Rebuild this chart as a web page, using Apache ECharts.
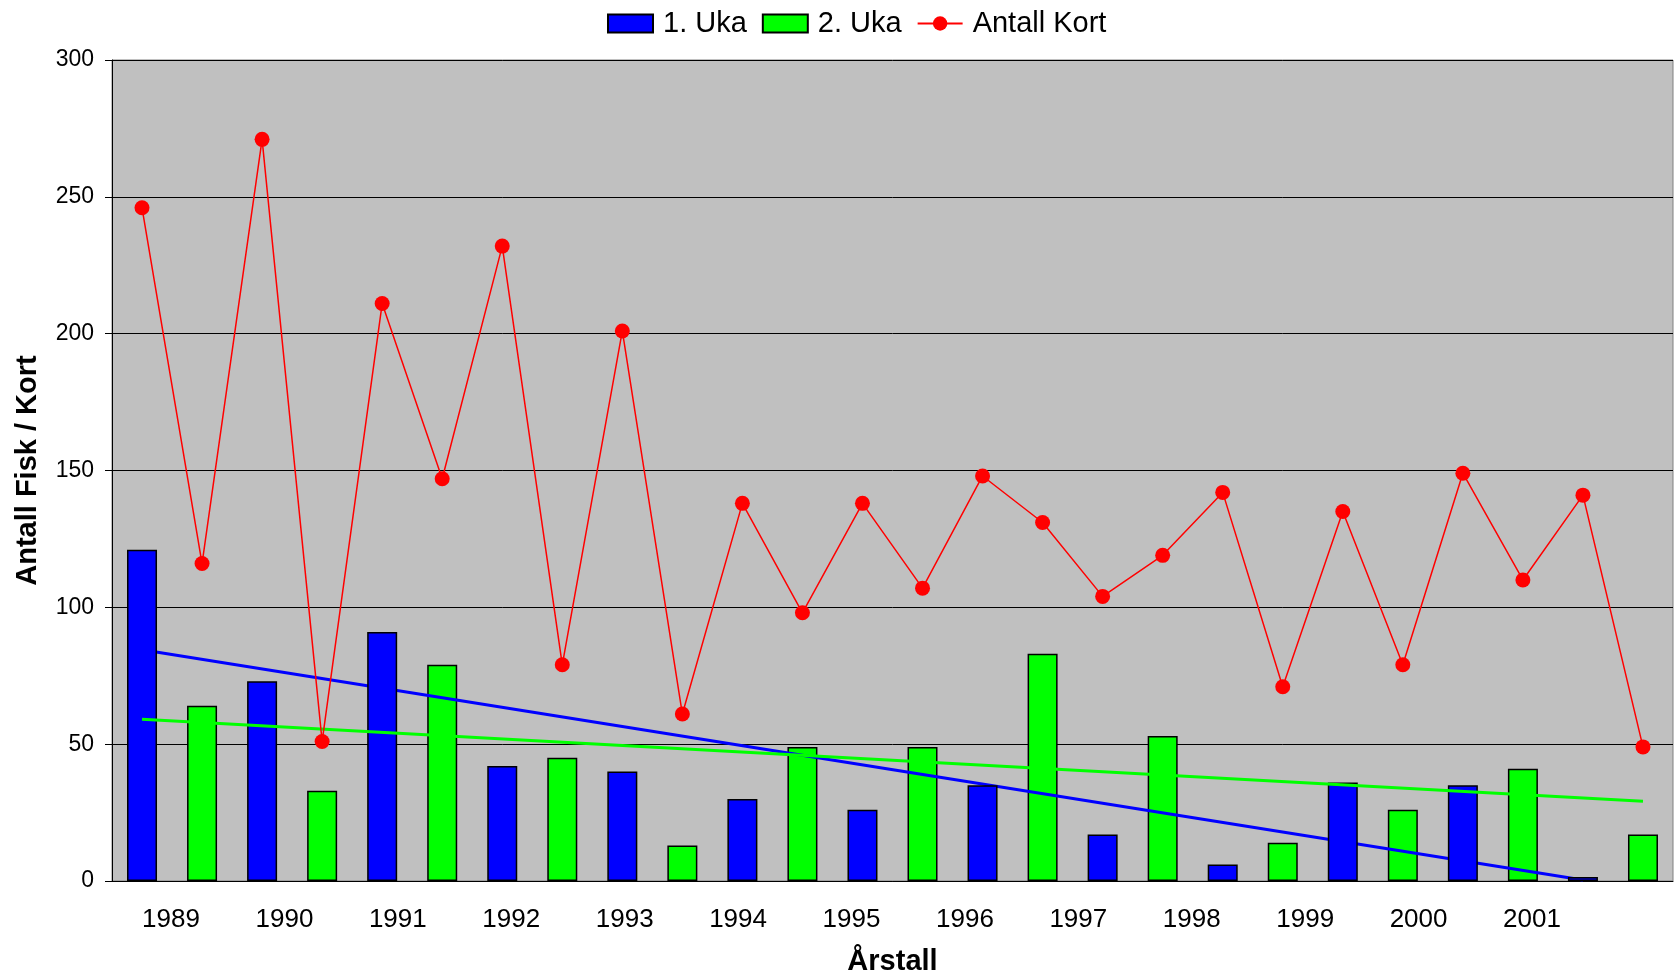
<!DOCTYPE html>
<html>
<head>
<meta charset="utf-8">
<title>Antall Fisk / Kort</title>
<script src="https://cdn.jsdelivr.net/npm/echarts@6/dist/echarts.min.js"></script>
<style>
  html, body { margin: 0; padding: 0; background: #fff; }
  #main { width: 1678px; height: 974px; }
</style>
</head>
<body>
<div id="main"></div>
<script>
// data
var years = ['1989', '1990', '1991', '1992', '1993', '1994', '1995', '1996', '1997', '1998', '1999', '2000', '2001'];
var uka1 = [121, 73, 91, 42, 40, 30, 26, 35, 17, 6, 36, 35, 1.5];
var uka2 = [64, 33, 79, 45, 13, 49, 49, 83, 53, 14, 26, 41, 17];
var antallKort = [246, 116, 271, 51, 211, 147, 232, 79, 201, 61, 138, 98, 138, 107, 148, 131,
  104, 119, 142, 71, 135, 79, 149, 110, 141, 49];
// linear trend lines, endpoints [slot, value]
var trend1 = [[0, 84.5], [24, 0.4]];
var trend2 = [[0, 59.1], [25, 29.1]];

// two slots per year: first week, second week
var slots = [];
var bar1 = [];
var bar2 = [];
for (var i = 0; i < years.length; i++) {
  slots.push(years[i] + ' 1. Uka', years[i] + ' 2. Uka');
  bar1.push(uka1[i], '-');
  bar2.push('-', uka2[i]);
}

var myChart = echarts.init(document.getElementById('main'));
var font = 'Liberation Sans, Arial, sans-serif';

var option = {
  animation: false,
  textStyle: { fontFamily: font, color: '#000' },
  legend: {
    data: [
      { name: '1. Uka', icon: 'rect' },
      { name: '2. Uka', icon: 'rect' },
      { name: 'Antall Kort' }
    ],
    left: 602,
    top: 4,
    itemWidth: 45,
    itemHeight: 18,
    itemGap: 15,
    textStyle: { fontSize: 29, color: '#000', fontFamily: font, padding: [0, 0, 0, 5] }
  },
  grid: [
    {
      left: 112, right: 5, top: 60, bottom: 93,
      outerBoundsMode: 'none',
      show: true,
      backgroundColor: '#C0C0C0',
      borderColor: '#808080',
      borderWidth: 1
    },
    // only used to place the year labels
    { left: 171, right: 146, top: 60, bottom: 93, outerBoundsMode: 'none' }
  ],
  xAxis: [
    {
      type: 'category',
      data: slots,
      boundaryGap: true,
      name: 'Årstall',
      nameLocation: 'middle',
      nameGap: 66,
      nameTextStyle: { fontSize: 29, fontWeight: 'bold', color: '#000', fontFamily: font },
      axisLine: { lineStyle: { color: '#000', width: 1 } },
      axisTick: { interval: 1, length: 7, lineStyle: { color: '#000' } },
      axisLabel: { show: false },
      splitLine: { show: false }
    },
    {
      type: 'category',
      gridIndex: 1,
      data: years,
      boundaryGap: false,
      axisLine: { show: false },
      axisTick: { show: false },
      axisLabel: { fontSize: 26, color: '#000', margin: 26, interval: 0, fontFamily: font },
      splitLine: { show: false }
    }
  ],
  yAxis: [
    {
      type: 'value',
      min: 0,
      max: 300,
      interval: 50,
      name: 'Antall Fisk / Kort',
      nameLocation: 'middle',
      nameGap: 70,
      nameTextStyle: { fontSize: 29, fontWeight: 'bold', color: '#000', fontFamily: font },
      axisLine: { show: true, lineStyle: { color: '#000', width: 1 } },
      axisTick: { show: true, length: 7, lineStyle: { color: '#000' } },
      axisLabel: { fontSize: 23, color: '#000', margin: 18, fontFamily: font },
      splitLine: { lineStyle: { color: '#000', width: 1 } }
    },
    { type: 'value', gridIndex: 1, show: false, min: 0, max: 300 }
  ],
  series: [
    {
      name: '2. Uka',
      type: 'bar',
      data: bar2,
      barWidth: 30,
      barGap: '-100%',
      z: 2,
      itemStyle: { color: '#00FF00', borderColor: '#000', borderWidth: 1.5 }
    },
    {
      name: 'trend 1',
      type: 'line',
      data: trend1,
      symbol: 'none',
      z: 3,
      lineStyle: { color: '#0000FF', width: 3 }
    },
    {
      name: '1. Uka',
      type: 'bar',
      data: bar1,
      barWidth: 30,
      barGap: '-100%',
      z: 4,
      itemStyle: { color: '#0000FF', borderColor: '#000', borderWidth: 1.5 }
    },
    {
      name: 'trend 2',
      type: 'line',
      data: trend2,
      symbol: 'none',
      z: 5,
      lineStyle: { color: '#00FF00', width: 3 }
    },
    {
      name: 'Antall Kort',
      type: 'line',
      data: antallKort,
      symbol: 'circle',
      symbolSize: 15,
      z: 6,
      itemStyle: { color: '#FF0000' },
      lineStyle: { color: '#FF0000', width: 1.5 }
    }
  ]
};

myChart.setOption(option);
</script>
</body>
</html>
